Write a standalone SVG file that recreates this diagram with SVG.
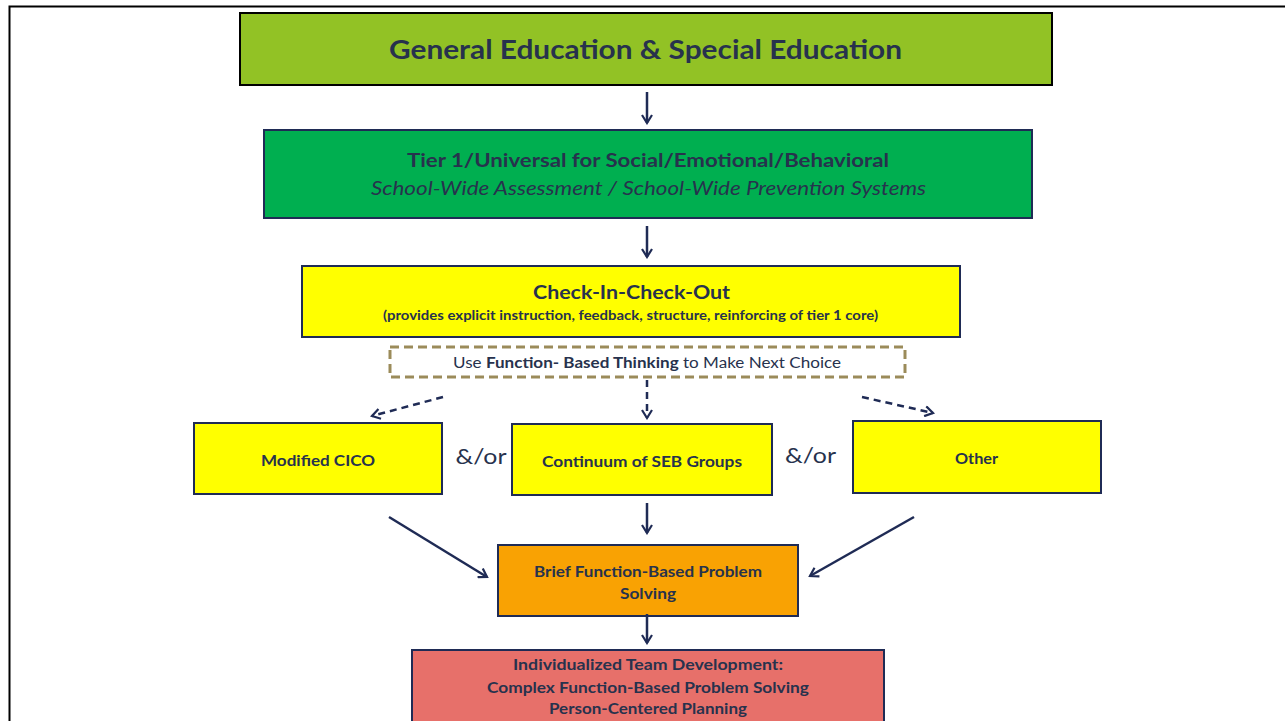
<svg xmlns="http://www.w3.org/2000/svg" width="1285" height="721" viewBox="0 0 1285 721">
<style>
.t{font-family:Lato,"Open Sans","Liberation Sans",sans-serif;fill:#27324d;text-anchor:middle}
.b{font-weight:bold}
.i{font-style:italic}
.box{stroke:#1f2b55;stroke-width:2}
.ln{stroke:#1f2b55;stroke-width:2.5;fill:none}
.dl{stroke:#1f2b55;stroke-width:2.5;fill:none;stroke-dasharray:7 5}
</style>
<defs>
<marker id="ah" viewBox="0 0 12 12" refX="10" refY="6" markerWidth="12" markerHeight="12" markerUnits="userSpaceOnUse" orient="auto">
<path d="M2,1 L10,6 L2,11" fill="none" stroke="#1f2b55" stroke-width="2.2"/>
</marker>
</defs>
<rect width="1285" height="721" fill="#fff"/>
<path d="M9.5,721 V6.5 H1285" fill="none" stroke="#000" stroke-width="2"/>

<g id="general">
<rect x="240" y="13" width="812" height="72" fill="#92c225" stroke="#000" stroke-width="2"/>
<text class="t b" x="645.5" y="59" font-size="26" fill="#1f2a55" textLength="513" lengthAdjust="spacingAndGlyphs">General Education &amp; Special Education</text>
</g>
<g id="tier1">
<rect class="box" x="264" y="130" width="768" height="88" fill="#00af50"/>
<text class="t b" x="648" y="167" font-size="19.5" fill="#2a3848" textLength="482" lengthAdjust="spacingAndGlyphs">Tier 1/Universal for Social/Emotional/Behavioral</text>
<text class="t i" x="648.5" y="195" font-size="19" fill="#2a3848" textLength="555" lengthAdjust="spacingAndGlyphs">School-Wide Assessment / School-Wide Prevention Systems</text>
</g>
<g id="cico">
<rect class="box" x="302" y="266" width="658" height="71" fill="#ffff00"/>
<text class="t b" x="631.5" y="299" font-size="19.5" textLength="197" lengthAdjust="spacingAndGlyphs">Check-In-Check-Out</text>
<text class="t b" x="630.5" y="320" font-size="12.5" textLength="495" lengthAdjust="spacingAndGlyphs">(provides explicit instruction, feedback, structure, reinforcing of tier 1 core)</text>
</g>
<g id="fbt">
<rect x="390" y="347" width="515" height="30" fill="none" stroke="#9b8b5a" stroke-width="3" stroke-dasharray="9 5"/>
<text class="t" x="647" y="368" font-size="15.5" textLength="388" lengthAdjust="spacingAndGlyphs">Use <tspan class="b">Function- Based Thinking</tspan> to Make Next Choice</text>
</g>
<g id="modified">
<rect class="box" x="194" y="423" width="248" height="71" fill="#ffff00"/>
<text class="t b" x="318" y="466" font-size="15" textLength="114" lengthAdjust="spacingAndGlyphs">Modified CICO</text>
</g>
<g id="continuum">
<rect class="box" x="512" y="424" width="260" height="71" fill="#ffff00"/>
<text class="t b" x="642" y="467" font-size="15" textLength="200" lengthAdjust="spacingAndGlyphs">Continuum of SEB Groups</text>
</g>
<g id="other">
<rect class="box" x="853" y="421" width="248" height="72" fill="#ffff00"/>
<text class="t b" x="976.5" y="464" font-size="15" textLength="43" lengthAdjust="spacingAndGlyphs">Other</text>
</g>
<g id="andor">
<text class="t" x="481" y="464" font-size="22" textLength="51" lengthAdjust="spacingAndGlyphs">&amp;/or</text>
<text class="t" x="810.5" y="463" font-size="22" textLength="51" lengthAdjust="spacingAndGlyphs">&amp;/or</text>
</g>
<g id="brief">
<rect class="box" x="498" y="545" width="300" height="71" fill="#f9a203"/>
<text class="t b" x="648" y="577" font-size="16" textLength="228" lengthAdjust="spacingAndGlyphs">Brief Function-Based Problem</text>
<text class="t b" x="648" y="599" font-size="16" textLength="56" lengthAdjust="spacingAndGlyphs">Solving</text>
</g>
<g id="individual">
<rect class="box" x="412" y="650" width="472" height="80" fill="#e7706a"/>
<text class="t b" x="648" y="670" font-size="16" textLength="270" lengthAdjust="spacingAndGlyphs">Individualized Team Development:</text>
<text class="t b" x="648" y="693" font-size="16" textLength="322" lengthAdjust="spacingAndGlyphs">Complex Function-Based Problem Solving</text>
<text class="t b" x="648" y="714" font-size="16" textLength="198" lengthAdjust="spacingAndGlyphs">Person-Centered Planning</text>
</g>
<g id="connectors">
<line class="ln" x1="647" y1="92" x2="647" y2="123" marker-end="url(#ah)"/>
<line class="ln" x1="647" y1="226" x2="647" y2="257" marker-end="url(#ah)"/>
<line class="dl" x1="443" y1="397" x2="372" y2="416" marker-end="url(#ah)"/>
<line class="dl" x1="647" y1="380" x2="647" y2="418" marker-end="url(#ah)"/>
<line class="dl" x1="862" y1="397" x2="933" y2="413" marker-end="url(#ah)"/>
<line class="ln" x1="389" y1="517" x2="487" y2="577" marker-end="url(#ah)"/>
<line class="ln" x1="647" y1="503" x2="647" y2="533" marker-end="url(#ah)"/>
<line class="ln" x1="914" y1="517" x2="810" y2="576" marker-end="url(#ah)"/>
<line class="ln" x1="647" y1="614" x2="647" y2="643" marker-end="url(#ah)"/>
</g>
</svg>
